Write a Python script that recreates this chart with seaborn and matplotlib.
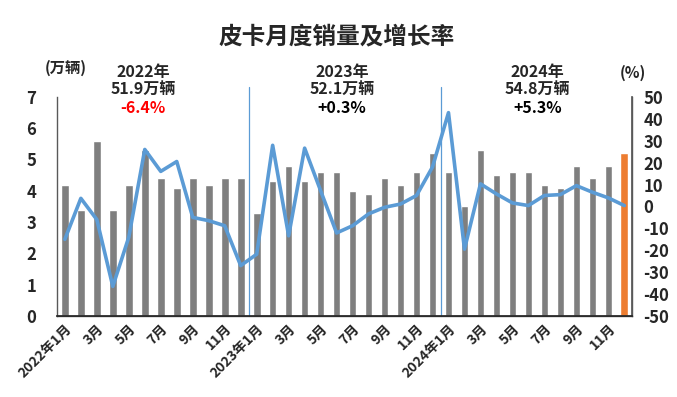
import matplotlib
matplotlib.use("Agg")
import matplotlib.pyplot as plt
import seaborn as sns
import pandas as pd

months = [f"{y}-{m:02d}" for y in (2022, 2023, 2024) for m in range(1, 13)]
tick_labels = []
for y in (2022, 2023, 2024):
    for m in range(1, 13):
        if m == 1:
            tick_labels.append(f"{y}年1月")
        elif m % 2 == 1:
            tick_labels.append(f"{m}月")
        else:
            tick_labels.append("")

sales = [4.2, 3.4, 5.6, 3.4, 4.2, 5.3, 4.4, 4.1, 4.4, 4.2, 4.4, 4.4,
         3.3, 4.3, 4.8, 4.3, 4.6, 4.6, 4.0, 3.9, 4.4, 4.2, 4.6, 5.2,
         4.6, 3.5, 5.3, 4.5, 4.6, 4.6, 4.2, 4.1, 4.8, 4.4, 4.8, 5.2]
growth = [-15, 3.7, -6, -36.5, -14, 26, 16, 20.5, -5, -6.5, -8.8, -27,
          -21.8, 27.9, -13.4, 26.6, 7.2, -12.1, -8.8, -3.4, -0.4, 1.1, 5, 18,
          42.8, -19.5, 10.3, 5.7, 1.6, 0.4, 5, 5.4, 9.5, 6.5, 3.9, 0.4]
year_notes = [("2022年", "51.9万辆", "-6.4%"),
              ("2023年", "52.1万辆", "+0.3%"),
              ("2024年", "54.8万辆", "+5.3%")]

sns.set_theme(style="white")
plt.rcParams['font.family'] = ['Noto Sans CJK SC', 'DejaVu Sans']
plt.rcParams['axes.unicode_minus'] = False

df = pd.DataFrame({"month": months, "sales": sales, "growth": growth,
                   "pos": range(len(months))})
colors = ["#7f7f7f"] * (len(months) - 1) + ["#ed7d31"]

fig = plt.figure(figsize=(6.77, 3.97), dpi=100)
ax = fig.add_axes([0.084, 0.204, 0.850, 0.552])
sns.barplot(data=df, x="month", y="sales", hue="month", palette=colors,
            legend=False, width=0.48, ax=ax, saturation=1)
ax.set_xlim(-0.5, len(months) - 0.5)
ax.set_ylim(0, 7)
ax.set_yticks(range(0, 8))
ax.set_yticklabels([str(i) for i in range(0, 8)], fontsize=12, fontweight='bold')
ax.set_xticks(range(len(months)))
ax.set_xticklabels(tick_labels, rotation=45, ha='right', rotation_mode='anchor',
                   fontsize=10, fontweight='bold')
ax.set_xlabel("")
ax.set_ylabel("")
ax.tick_params(axis='both', length=0)
ax.tick_params(axis='y', pad=15)
ax.tick_params(axis='x', pad=4)
ax.spines["top"].set_visible(False)
for s in ["left", "bottom", "right"]:
    ax.spines[s].set_color("#595959")
    ax.spines[s].set_linewidth(1.0)

for xv in (11.5, 23.5):
    ax.axvline(xv, ymin=0, ymax=1.045, color="#5b9bd5", lw=0.9, clip_on=False)

ax2 = ax.twinx()
sns.lineplot(data=df, x="pos", y="growth", ax=ax2, color="#5b9bd5", lw=2.6)
ax2.set_ylim(-50, 50)
ax2.set_yticks(range(-50, 51, 10))
ax2.set_yticklabels([str(v) for v in range(-50, 51, 10)], fontsize=12, fontweight='bold')
ax2.set_xlim(-0.5, len(months) - 0.5)
ax2.set_ylabel("")
ax2.set_xlabel("")
ax2.tick_params(axis='y', length=0, pad=8)
ax2.spines["top"].set_visible(False)
ax2.spines["right"].set_color("#595959")
ax2.spines["left"].set_visible(False)

fig.text(0.497, 0.907, "皮卡月度销量及增长率", ha='center', va='center',
         fontsize=17, fontweight='bold')
fig.text(0.097, 0.828, "(万辆)", ha='center', va='center', fontsize=11, fontweight='bold')
fig.text(0.935, 0.816, "(%)", ha='center', va='center', fontsize=11, fontweight='bold')

centers = [0.211, 0.505, 0.794]
for (yr, tot, pct), cx in zip(year_notes, centers):
    fig.text(cx, 0.819, yr, ha='center', va='center', fontsize=11.5, fontweight='bold')
    fig.text(cx, 0.773, tot, ha='center', va='center', fontsize=11.5, fontweight='bold')
    fig.text(cx, 0.728, pct, ha='center', va='center', fontsize=11.5, fontweight='bold',
             color="#ff0000" if pct.startswith("-") else "black")

fig.savefig("out.png", dpi=100)
